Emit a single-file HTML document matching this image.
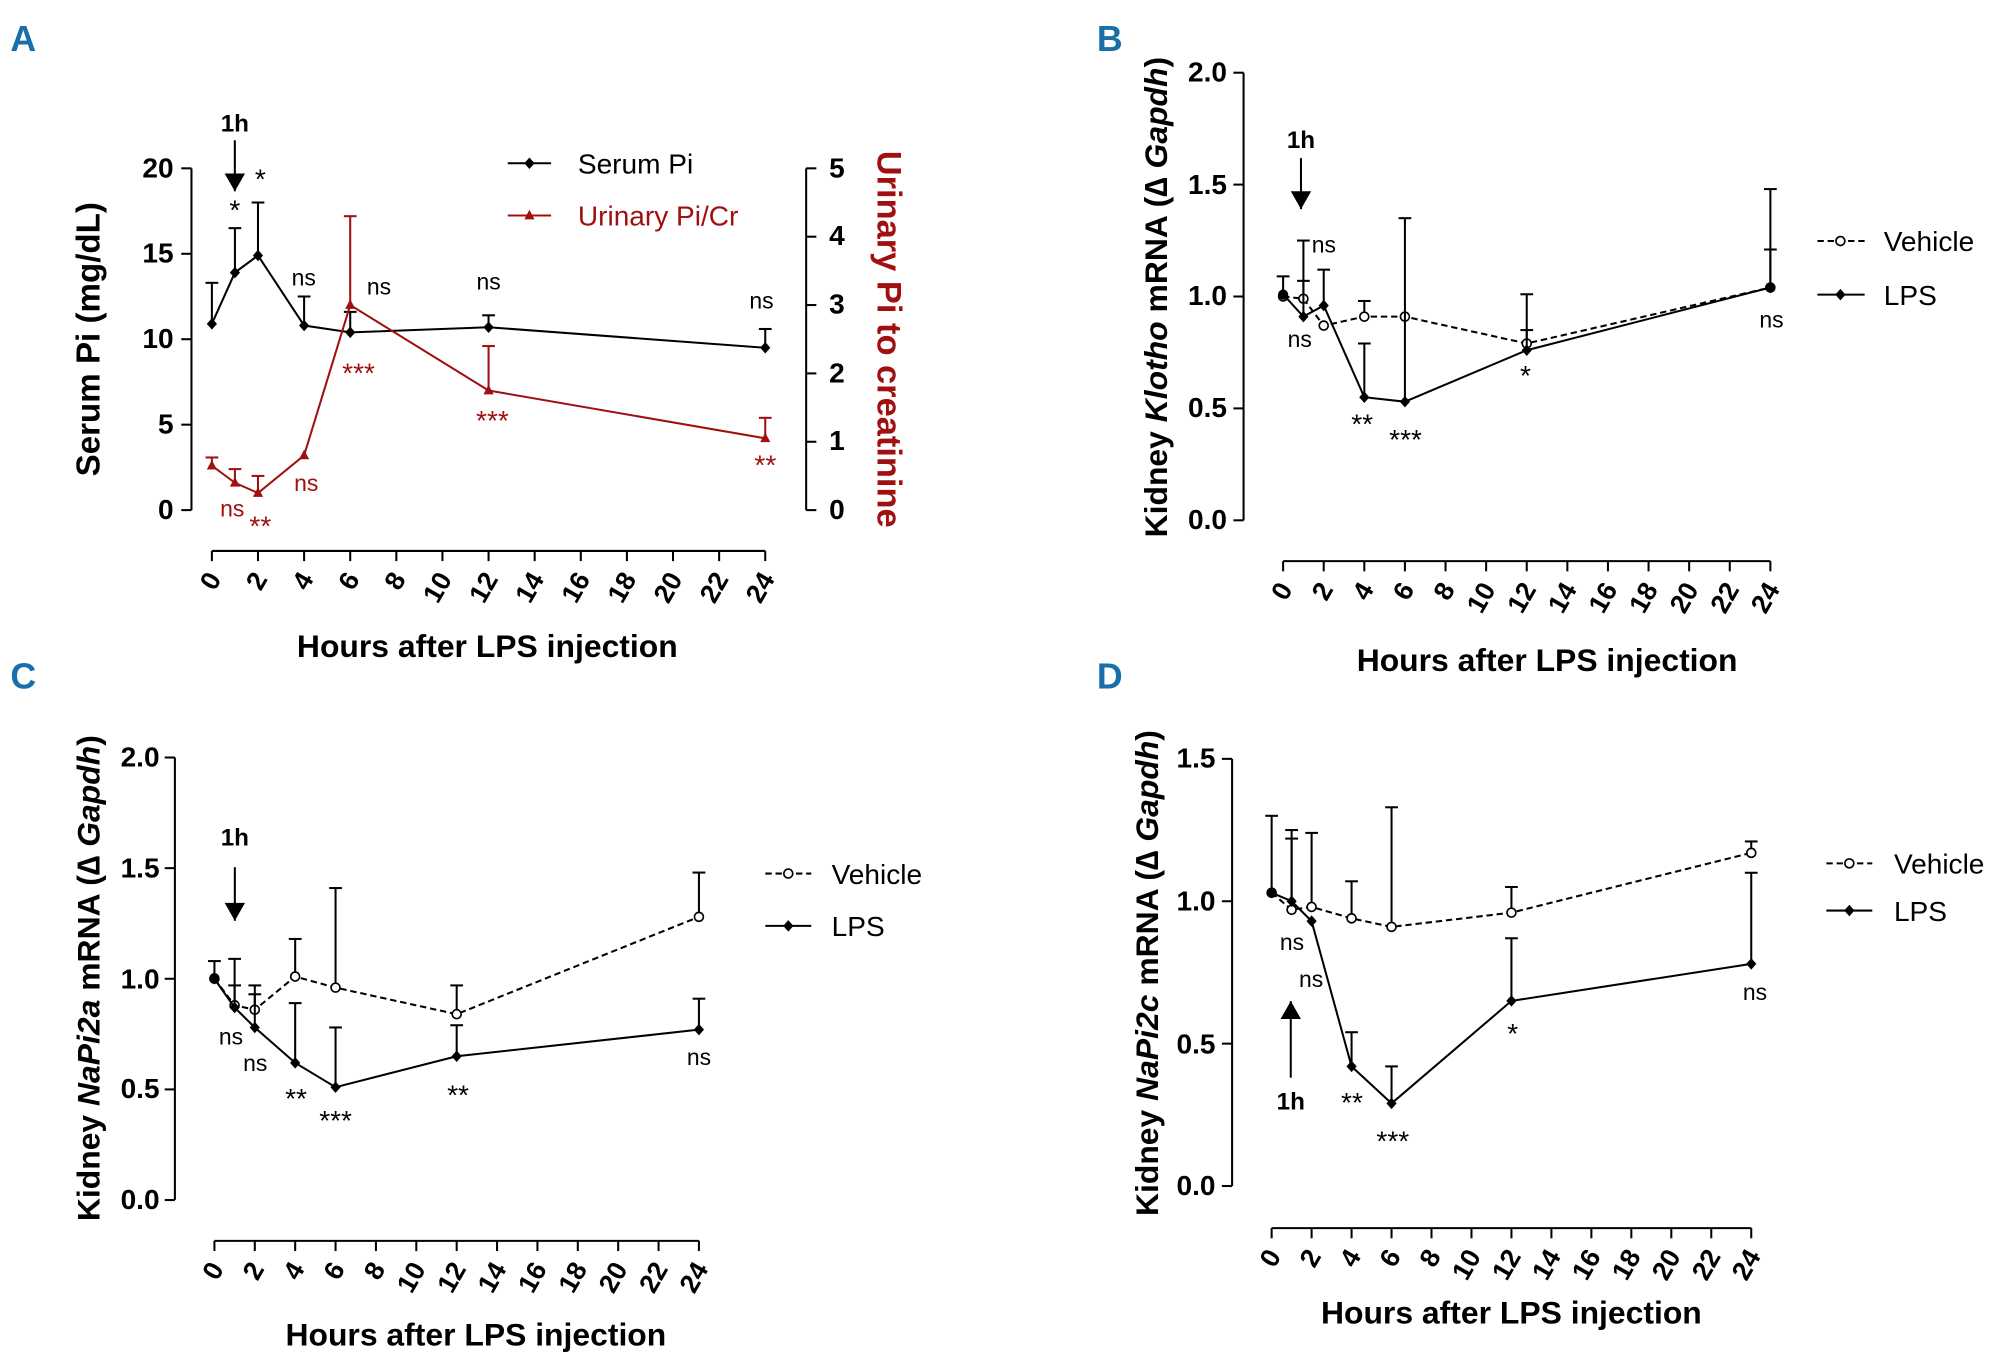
<!DOCTYPE html>
<html><head><meta charset="utf-8"><style>
html,body{margin:0;padding:0;background:#fff}
svg{display:block}
text{font-family:"Liberation Sans",sans-serif}
.t{font-size:19px;font-weight:bold}
.tk{font-size:21px;font-weight:bold}
.ax{font-size:22px;font-weight:bold}
.at{font-size:25px;font-weight:bold}
.an{font-size:18px}
.lg{font-size:22px}
.pl{font-size:28px;font-weight:bold;fill:#1a6fa8}
</style></head><body>
<svg id="s" width="2000" height="1362" viewBox="0 0 1568 1068" xmlns="http://www.w3.org/2000/svg">
<g id="g" stroke="#000" fill="none" stroke-width="1.6"></g>
<text class="pl" x="8" y="40">A</text>
<text class="pl" x="860" y="40">B</text>
<text class="pl" x="8" y="540">C</text>
<text class="pl" x="860" y="540">D</text>

<g class="ax" text-anchor="end">
<text x="136" y="407">0</text><text x="136" y="340">5</text><text x="136" y="273">10</text><text x="136" y="206">15</text><text x="136" y="139">20</text>
</g>
<g class="ax" text-anchor="start">
<text x="650" y="407">0</text><text x="650" y="353">1</text><text x="650" y="300">2</text><text x="650" y="246">3</text><text x="650" y="192">4</text><text x="650" y="139">5</text>
</g>
<text class="at" transform="translate(78,266) rotate(-90)" text-anchor="middle" style="font-size:26px">Serum Pi (mg/dL)</text>
<text class="at" fill="#a01010" transform="translate(688,266) rotate(90)" text-anchor="middle" style="font-size:27px">Urinary Pi to creatinine</text>
<text class="at" x="382" y="515" text-anchor="middle">Hours after LPS injection</text>
<text class="t" x="184" y="103" text-anchor="middle">1h</text>
<text class="lg" x="453" y="136">Serum Pi</text>
<text class="lg" x="453" y="177" fill="#a01010">Urinary Pi/Cr</text>
<g class="an" text-anchor="middle">
<text x="184" y="172" style="font-size:22px">*</text><text x="204" y="148" style="font-size:22px">*</text>
<text x="238" y="224">ns</text><text x="297" y="231">ns</text><text x="383" y="227">ns</text><text x="597" y="242">ns</text>
</g>
<g class="an" text-anchor="middle" fill="#a01010">
<text x="182" y="405">ns</text><text x="240" y="385">ns</text>
<text x="204" y="420" style="font-size:22px">**</text><text x="281" y="300" style="font-size:22px">***</text><text x="386" y="337" style="font-size:22px">***</text><text x="600" y="372" style="font-size:22px">**</text>
</g>

<g class="ax" text-anchor="end">
<text x="962" y="415">0.0</text><text x="962" y="327">0.5</text><text x="962" y="239">1.0</text><text x="962" y="152">1.5</text><text x="962" y="64">2.0</text>
</g>
<text class="at" transform="translate(915,233) rotate(-90)" text-anchor="middle">Kidney <tspan font-style="italic">Klotho</tspan> mRNA (∆ <tspan font-style="italic">Gapdh</tspan>)</text>
<text class="at" x="1213" y="526" text-anchor="middle">Hours after LPS injection</text>
<text class="t" x="1020" y="116" text-anchor="middle">1h</text>
<text class="lg" x="1477" y="197">Vehicle</text>
<text class="lg" x="1477" y="239">LPS</text>
<g class="an" text-anchor="middle">
<text x="1038" y="198">ns</text><text x="1019" y="272">ns</text><text x="1389" y="257">ns</text>
<text x="1068" y="340" style="font-size:22px">**</text><text x="1102" y="352" style="font-size:22px">***</text><text x="1196" y="302" style="font-size:22px">*</text>
</g>

<g class="ax" text-anchor="end">
<text x="125" y="948">0.0</text><text x="125" y="861">0.5</text><text x="125" y="775">1.0</text><text x="125" y="688">1.5</text><text x="125" y="601">2.0</text>
</g>
<text class="at" transform="translate(78,767) rotate(-90)" text-anchor="middle">Kidney <tspan font-style="italic">NaPi2a</tspan> mRNA (∆ <tspan font-style="italic">Gapdh</tspan>)</text>
<text class="at" x="373" y="1055" text-anchor="middle">Hours after LPS injection</text>
<text class="t" x="184" y="663" text-anchor="middle">1h</text>
<text class="lg" x="652" y="693">Vehicle</text>
<text class="lg" x="652" y="734">LPS</text>
<g class="an" text-anchor="middle">
<text x="181" y="819">ns</text><text x="200" y="840">ns</text><text x="548" y="835">ns</text>
<text x="232" y="869" style="font-size:22px">**</text><text x="263" y="886" style="font-size:22px">***</text><text x="359" y="866" style="font-size:22px">**</text>
</g>

<g class="ax" text-anchor="end">
<text x="953" y="937">0.0</text><text x="953" y="826">0.5</text><text x="953" y="714">1.0</text><text x="953" y="602">1.5</text>
</g>
<text class="at" transform="translate(908,763) rotate(-90)" text-anchor="middle">Kidney <tspan font-style="italic">NaPi2c</tspan> mRNA (∆ <tspan font-style="italic">Gapdh</tspan>)</text>
<text class="at" x="1185" y="1038" text-anchor="middle">Hours after LPS injection</text>
<text class="t" x="1012" y="870" text-anchor="middle">1h</text>
<text class="lg" x="1485" y="685">Vehicle</text>
<text class="lg" x="1485" y="722">LPS</text>
<g class="an" text-anchor="middle">
<text x="1013" y="745">ns</text><text x="1028" y="774">ns</text><text x="1376" y="784">ns</text>
<text x="1060" y="872" style="font-size:22px">**</text><text x="1092" y="902" style="font-size:22px">***</text><text x="1186" y="818" style="font-size:22px">*</text>
</g>

<g class="tk" id="xt"></g>
</svg>
<script>
const NS="http://www.w3.org/2000/svg",g=document.getElementById('g'),xt=document.getElementById('xt');
function el(t,a,p){const e=document.createElementNS(NS,t);for(const k in a)e.setAttribute(k,a[k]);(p||g).appendChild(e);return e;}
function line(x1,y1,x2,y2,o){el('line',Object.assign({x1,y1,x2,y2},o||{}));}
function panel(P){
 const X=h=>P.x0+h*P.xs, Y=v=>P.y0-v*P.ys;
 line(P.ax,Y(P.ymax),P.ax,P.y0);
 for(let v=0;v<=P.ymax+1e-9;v+=P.ystep) line(P.ax-8,Y(v),P.ax,Y(v));
 line(X(0),P.xa,X(24),P.xa);
 for(let h=0;h<=24;h+=2){line(X(h),P.xa,X(h),P.xa+8);
  const t=el('text',{transform:`translate(${X(h)+8},${P.xa+22}) rotate(-60)`,'text-anchor':'end'},xt);t.textContent=h;}
 for(const S of P.series){
  const col=S.c||'#000';
  const pts=S.d.map(d=>X(d[0])+','+Y(d[1])).join(' ');
  el('polyline',{points:pts,stroke:col,'stroke-dasharray':S.dash?'5,3':'none'});
  S.d.forEach(d=>{ if(d[2]!=null&&d[2]>d[1]){line(X(d[0]),Y(d[1]),X(d[0]),Y(d[2]),{stroke:col});line(X(d[0])-5,Y(d[2]),X(d[0])+5,Y(d[2]),{stroke:col});}});
  S.d.forEach(d=>mark(S.m,X(d[0]),Y(d[1]),col));
 }
}
function mark(m,x,y,c){
 if(m==='o')el('circle',{cx:x,cy:y,r:3.5,fill:'#fff',stroke:c,'stroke-width':1.3});
 else if(m==='d')el('polygon',{points:`${x},${y-4.5} ${x+4},${y} ${x},${y+4.5} ${x-4},${y}`,fill:c,stroke:'none'});
 else if(m==='t')el('polygon',{points:`${x},${y-4.5} ${x+4},${y+3} ${x-4},${y+3}`,fill:c,stroke:'none'});
}
function arrow(x,y1,y2){line(x,y1,x,y2);const d=y2>y1?1:-1;el('polygon',{points:`${x-8},${y2-14*d} ${x+8},${y2-14*d} ${x},${y2}`,fill:'#000',stroke:'none'});}
const red='#a01010';
panel({x0:166,xs:18.08,y0:400,ys:13.4,ymax:20,ystep:5,ax:150,xa:432,series:[
 {m:'d',d:[[0,10.9,13.3],[1,13.9,16.5],[2,14.9,18],[4,10.8,12.5],[6,10.4,11.6],[12,10.7,11.4],[24,9.5,10.6]]},
 {m:'t',c:red,d:[[0,0.65*4,0.77*4],[1,0.4*4,0.6*4],[2,0.25*4,0.5*4],[4,0.8*4],[6,3*4,4.3*4],[12,1.75*4,2.4*4],[24,1.05*4,1.35*4]]}]});
line(632,132,632,400);
for(let v=0;v<=5;v++)line(632,400-v*53.6,640,400-v*53.6);
arrow(184,110,150);
line(398,128,432,128);mark('d',415,128,'#000');
line(398,169,432,169,{stroke:red});mark('t',415,169,red);
panel({x0:1006,xs:15.92,y0:408,ys:175.5,ymax:2,ystep:0.5,ax:975,xa:440,series:[
 {m:'o',dash:1,d:[[0,1.0,1.09],[1,0.99,1.07],[2,0.87],[4,0.91,0.98],[6,0.91],[12,0.79,0.85],[24,1.04,1.21]]},
 {m:'d',d:[[0,1.01],[1,0.91,1.25],[2,0.96,1.12],[4,0.55,0.79],[6,0.53,1.35],[12,0.76,1.01],[24,1.04,1.48]]}]});
el('circle',{cx:1006,cy:231,r:4,fill:'#000',stroke:'none'});
arrow(1020,124,164);
line(1425,189,1462,189,{'stroke-dasharray':'5,3'});mark('o',1443,189,'#000');
line(1425,231,1462,231);mark('d',1443,231,'#000');
panel({x0:168,xs:15.83,y0:941,ys:173.5,ymax:2,ystep:0.5,ax:137,xa:973,series:[
 {m:'o',dash:1,d:[[0,1.0],[1,0.88,1.09],[2,0.86,0.97],[4,1.01,1.18],[6,0.96,1.41],[12,0.84,0.97],[24,1.28,1.48]]},
 {m:'d',d:[[0,1.0,1.08],[1,0.87,0.97],[2,0.78,0.93],[4,0.62,0.89],[6,0.51,0.78],[12,0.65,0.79],[24,0.77,0.91]]}]});
el('circle',{cx:168,cy:767,r:4,fill:'#000',stroke:'none'});
arrow(184,680,722);
line(600,685,636,685,{'stroke-dasharray':'5,3'});mark('o',618,685,'#000');
line(600,726,636,726);mark('d',618,726,'#000');
panel({x0:997,xs:15.67,y0:930,ys:223.3,ymax:1.5,ystep:0.5,ax:966,xa:963,series:[
 {m:'o',dash:1,d:[[0,1.03,1.3],[1,0.97,1.25],[2,0.98,1.24],[4,0.94,1.07],[6,0.91,1.33],[12,0.96,1.05],[24,1.17,1.21]]},
 {m:'d',d:[[0,1.03],[1,1.0,1.22],[2,0.93],[4,0.42,0.54],[6,0.29,0.42],[12,0.65,0.87],[24,0.78,1.1]]}]});
el('circle',{cx:997,cy:700,r:4,fill:'#000',stroke:'none'});
arrow(1012,845,785);
line(1432,677,1468,677,{'stroke-dasharray':'5,3'});mark('o',1450,677,'#000');
line(1432,714,1468,714);mark('d',1450,714,'#000');
</script>
</body></html>
